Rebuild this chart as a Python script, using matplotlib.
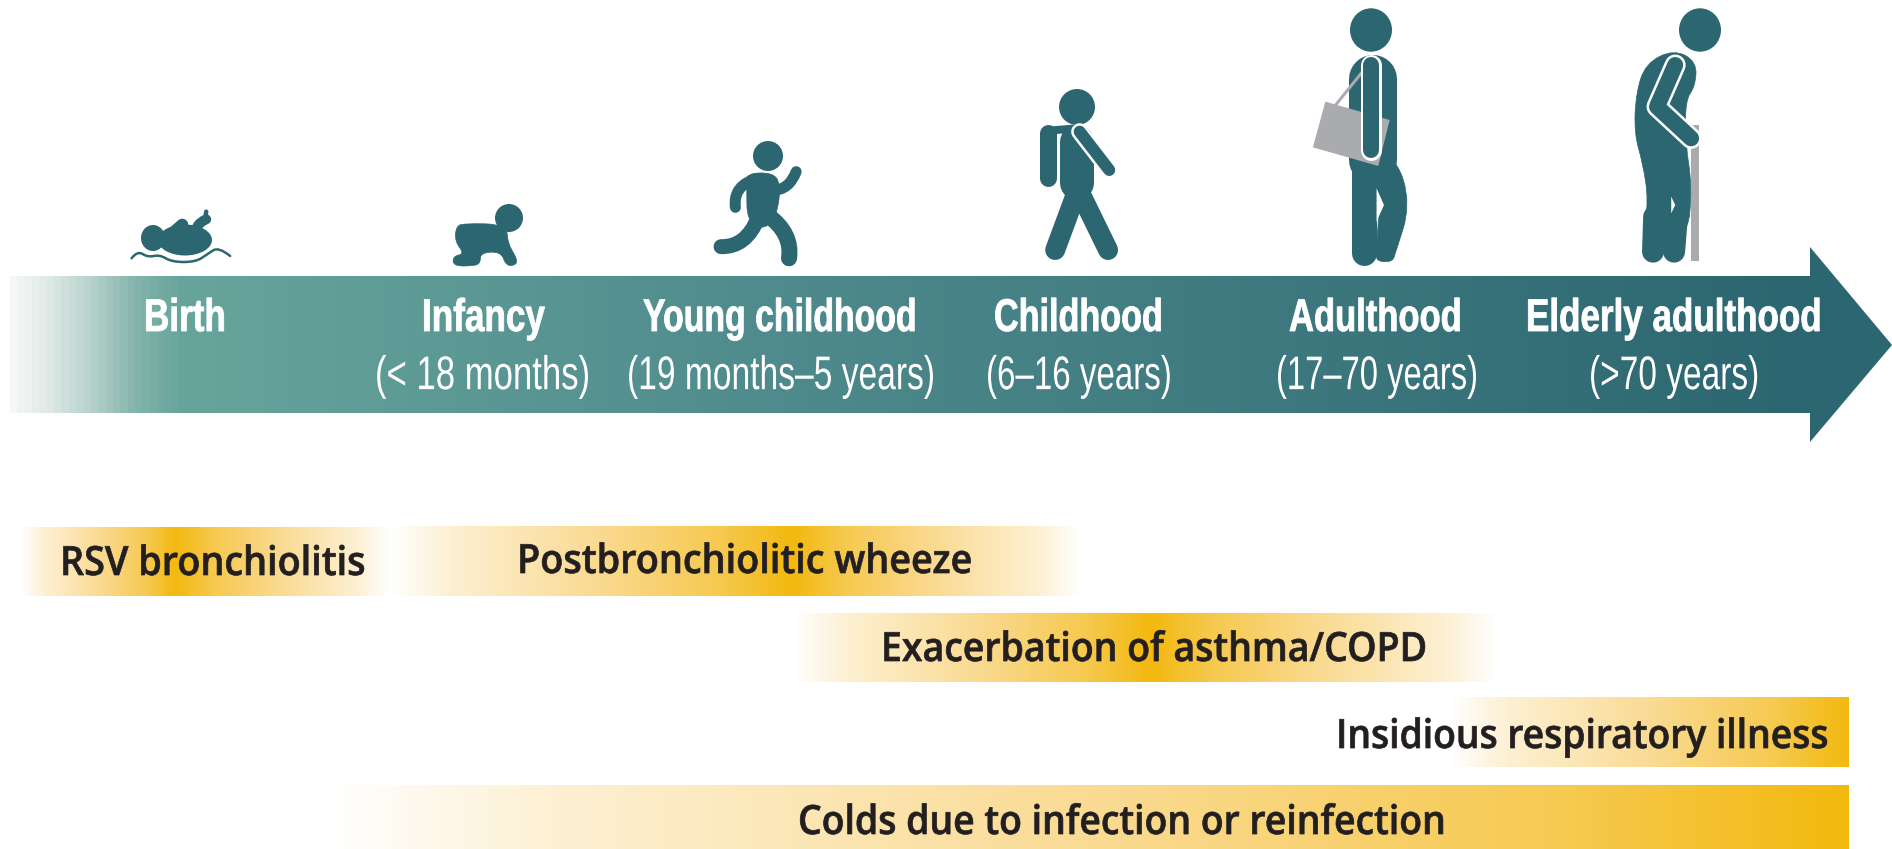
import numpy as np
import matplotlib
matplotlib.use("Agg")
import matplotlib.pyplot as plt
from matplotlib.colors import LinearSegmentedColormap
from matplotlib.patches import Ellipse, PathPatch, Polygon
from matplotlib.path import Path
from matplotlib.patheffects import AbstractPathEffect
from matplotlib.transforms import Affine2D

stages = ["Birth", "Infancy", "Young childhood", "Childhood", "Adulthood", "Elderly adulthood"]
ages = ["", "(< 18 months)", "(19 months\u20135 years)", "(6\u201316 years)", "(17\u201370 years)", "(>70 years)"]
bands = ["RSV bronchiolitis", "Postbronchiolitic wheeze", "Exacerbation of asthma/COPD",
         "Insidious respiratory illness", "Colds due to infection or reinfection"]
band_start = [21, 389, 793, 1449, 330]
band_peak = [175, 793, 1151, 1848, 1848]
band_end = [389, 1080, 1498, 1848, 1848]

TEAL = "#2c6771"
GREY = "#a9abae"
FIG_H = 849

fig = plt.figure(figsize=(18.92, 8.49), dpi=100)
ax = fig.add_axes([0, 0, 1, 1])


class Squeeze(AbstractPathEffect):
    # no condensed font here, so reshape the glyphs around the text centre
    def __init__(self, cx, cy, fx, fy=1.0, bolder=0.0):
        super().__init__()
        self.cx, self.cy, self.fx, self.fy, self.bolder = cx, cy, fx, fy, bolder

    def draw_path(self, renderer, gc, tpath, affine, rgbFace=None):
        shaped = affine + (Affine2D().translate(-self.cx, -self.cy).scale(self.fx, self.fy)
                           .translate(self.cx, self.cy))
        gc0 = renderer.new_gc()
        gc0.copy_properties(gc)
        gc0.set_linewidth(self.bolder)
        gc0.set_foreground(rgbFace)
        renderer.draw_path(gc0, tpath, shaped, rgbFace)
        gc0.restore()


def fit_text(x0, x1, y, s, bolder=0.0, fy=1.0, **kw):
    t = ax.text((x0 + x1) / 2, y, s, ha="center", va="center", zorder=3, **kw)
    box = t.get_window_extent(fig.canvas.get_renderer())
    t.set_path_effects([Squeeze((x0 + x1) / 2, FIG_H - y, (x1 - x0) / box.width, fy, bolder)])
    return t


# main arrow, gradient clipped to the arrow shape
arrow_cmap = LinearSegmentedColormap.from_list(
    "arrow", [(0, "#f4f8f7"), (0.019, "#dfe9e6"), (0.043, "#b2cfc9"), (0.064, "#86b5ac"), (0.088, "#67a59c"),
              (0.45, "#4c878a"), (0.95, TEAL), (1, TEAL)])
im = ax.imshow(np.linspace(0, 1, 512)[None, :], cmap=arrow_cmap, extent=(10, 1892, 442, 247), aspect="auto", zorder=1)
arrow = Polygon([(10, 276), (1810, 276), (1810, 247), (1892, 345), (1810, 442), (1810, 413), (10, 413)],
                transform=ax.transData, fc="none", ec="none")
ax.add_patch(arrow)
im.set_clip_path(arrow)
ax.set_xlim(0, 1892)
ax.set_ylim(849, 0)
ax.axis("off")

name_span = [(144, 226), (422, 545), (643, 917), (994, 1163), (1289, 1462), (1526, 1822)]
age_span = [None, (375, 590), (627, 935), (986, 1172), (1276, 1478), (1589, 1759)]
for name, age, ns, gs in zip(stages, ages, name_span, age_span):
    fit_text(ns[0], ns[1], 319, name, bolder=0.6, color="white", family="Liberation Sans", weight="bold", fontsize=33)
    if gs:
        fit_text(gs[0], gs[1], 377, age, fy=34 / 28, color="white", family="Liberation Sans", fontsize=28)

# disease bands
band_stops = [(0, "#ffffff"), (0.15, "#fdf0d2"), (0.5, "#fadb94"), (0.82, "#f6c94f"), (1, "#f3b90f")]
band_cmap = LinearSegmentedColormap.from_list("band", band_stops)
band_y = [(527, 596), (526, 596), (613, 682), (697, 767), (785, 849)]
text_span = [(60, 365), (517, 972), (881, 1426), (1336, 1828), (798, 1445)]
text_y = [565, 563, 651, 738, 824]
for i in range(len(bands)):
    xs = np.arange(band_start[i], band_end[i] + 1)
    left = np.clip((xs - band_start[i]) / max(band_peak[i] - band_start[i], 1), 0, 1)
    if band_end[i] > band_peak[i]:
        right = np.clip((band_end[i] - xs) / (band_end[i] - band_peak[i]), 0, 1)
        vals = np.where(xs <= band_peak[i], left, right)
    else:
        vals = left
    ax.imshow(vals[None, :], cmap=band_cmap, vmin=0, vmax=1, aspect="auto",
              extent=(band_start[i], band_end[i], band_y[i][1], band_y[i][0]), zorder=1)
    fit_text(text_span[i][0], text_span[i][1], text_y[i], bands[i], bolder=0.5, color="#231f20", family="Open Sans",
             weight="semibold", fontsize=29)
ax.set_xlim(0, 1892)
ax.set_ylim(849, 0)


def conv(pts, ox, oy, sx, sy=3.0):
    return [(ox + p[0] / sx, oy + p[1] / sy) for p in pts]


def curve(pts):
    # open curve rounded off through the midpoints
    verts = [pts[0]]
    codes = [Path.MOVETO]
    for k in range(1, len(pts) - 1):
        end = pts[k + 1] if k == len(pts) - 2 else ((pts[k][0] + pts[k + 1][0]) / 2, (pts[k][1] + pts[k + 1][1]) / 2)
        verts += [pts[k], end]
        codes += [Path.CURVE3, Path.CURVE3]
    if len(pts) == 2:
        verts.append(pts[1])
        codes.append(Path.LINETO)
    return Path(verts, codes)


def limb(pts, width, color=TEAL, cap="round", z=2, sharp=False):
    path = Path(pts) if sharp else curve(pts)
    ax.add_patch(PathPatch(path, fc="none", ec=color, lw=width * 0.72, capstyle=cap, joinstyle="round", zorder=z))


def blob(pts, color=TEAL, z=2):
    # closed shape rounded off through the edge midpoints
    n = len(pts)
    mids = [((pts[k][0] + pts[(k + 1) % n][0]) / 2, (pts[k][1] + pts[(k + 1) % n][1]) / 2) for k in range(n)]
    verts = [mids[-1]]
    codes = [Path.MOVETO]
    for k in range(n):
        verts += [pts[k], mids[k]]
        codes += [Path.CURVE3, Path.CURVE3]
    ax.add_patch(PathPatch(Path(verts, codes), fc=color, ec=color, lw=0.5, zorder=z))


def head(cx, cy, rx, ry):
    ax.add_patch(Ellipse((cx, cy), 2 * rx, 2 * ry, fc=TEAL, ec="none", zorder=2))


z4 = lambda pts: conv(pts, 100, 130, 2.09)
z2 = lambda pts: conv(pts, 1000, 0, 1.758)

# newborn
head(153, 238, 12, 13)
ax.add_patch(Ellipse((185, 240), 54, 31, fc=TEAL, ec="none", zorder=2))
limb(z4([(145, 318), (172, 284)]), 12)
limb(z4([(205, 310), (195, 285), (222, 268)]), 10)
limb(z4([(220, 265), (222, 245)]), 4.5)
limb(z4([(66, 385), (78, 362), (100, 382), (125, 374), (150, 396), (200, 396), (225, 372), (248, 350), (272, 378)]), 2.5)

# crawling baby
head(509, 218, 14, 14)
blob(z4([(760, 280), (850, 283), (852, 340), (874, 392), (865, 408), (848, 405), (838, 365), (795, 368), (795, 400),
         (780, 408), (738, 408), (738, 378), (762, 372), (742, 335), (744, 290)]))

# running child
head(768, 156, 15, 15)
blob(z4([(1350, 130), (1408, 128), (1422, 165), (1416, 250), (1390, 300), (1352, 275), (1352, 170)]))
limb(z4([(1375, 145), (1322, 165), (1328, 232)]), 11)
limb(z4([(1408, 180), (1440, 180), (1455, 125)]), 11)
limb(z4([(1375, 265), (1350, 352), (1298, 350)]), 15)
limb(z4([(1395, 255), (1448, 310), (1440, 385)]), 16)

# school child
head(1077, 107, 18, 18)
limb(z2([(85, 400), (85, 535)]), 17)
limb(z2([(85, 392), (135, 385)]), 8)
limb(z2([(135, 426), (135, 550)]), 34)
limb(z2([(135, 575), (97, 750)]), 20)
limb(z2([(140, 575), (190, 750)]), 20)
limb(z2([(140, 395), (192, 510)]), 17, color="white")
limb(z2([(140, 395), (192, 510)]), 12)

# adult with bag
head(1371, 30, 21, 21.7)
limb(z2([(655, 237), (655, 480)]), 48)
limb(z2([(640, 500), (640, 760)]), 25)
blob(z2([(650, 490), (697, 470), (722, 615), (695, 760), (690, 785), (665, 785), (660, 765), (668, 615), (660, 560)]))
ax.add_patch(Polygon(z2([(662, 565), (675, 615), (662, 665)]), fc="white", ec="none", zorder=2.1))
limb(z2([(590, 315), (642, 205)]), 3, color=GREY, z=2.2)
ax.add_patch(Polygon(z2([(572, 305), (685, 360), (665, 498), (550, 442)]), fc=GREY, ec="none", zorder=2.2))
limb(z2([(653, 195), (653, 450)]), 21, color="white", z=2.3)
limb(z2([(653, 195), (653, 450)]), 16, z=2.4)

# elderly with cane
head(1700, 30, 21, 21.7)
limb(z2([(1221, 375), (1221, 782)]), 8, color=GREY, cap="butt", z=1.9)
blob(z2([(1185, 148), (1225, 185), (1222, 260), (1205, 300), (1205, 430), (1217, 560), (1208, 720), (1130, 720),
         (1140, 600), (1130, 490), (1115, 400), (1118, 280), (1135, 190)]))
limb(z2([(1150, 650), (1148, 755)]), 22)
limb(z2([(1190, 650), (1185, 755)]), 22)
ax.add_patch(Polygon(z2([(1180, 590), (1187, 615), (1180, 640)]), fc="white", ec="none", zorder=2.1))
limb(z2([(1187, 195), (1155, 320), (1215, 415)]), 21, color="white", z=2.3, sharp=True)
limb(z2([(1187, 195), (1155, 320), (1215, 415)]), 16, z=2.4, sharp=True)

fig.savefig("out.png", dpi=100)
